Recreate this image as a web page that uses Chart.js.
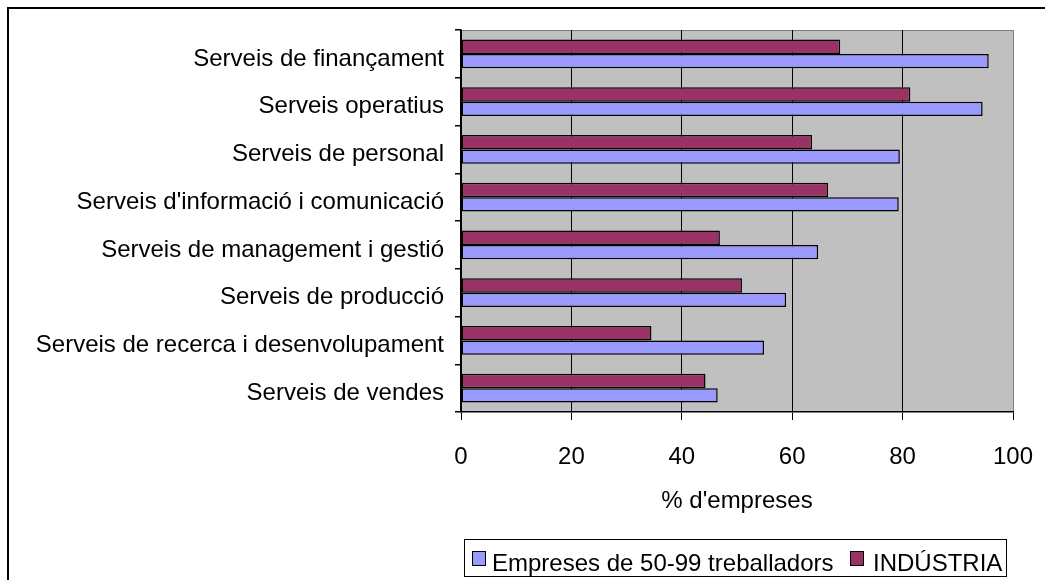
<!DOCTYPE html>
<html lang="ca">

<head>
    <meta charset="UTF-8">
    <title>Serveis</title>
    <script src="https://cdn.jsdelivr.net/npm/chart.js"></script>
    <style>
        body { margin: 0; width: 1045px; height: 580px; overflow: hidden; background: #fff; position: relative; font-family: "Liberation Sans", Arial, sans-serif; }
        #marc { position: absolute; left: 7px; top: 7px; width: 2000px; height: 2000px; border: 2px solid #000; }
        #myChart { position: absolute; left: 0; top: 0; }
        #llegenda { position: absolute; left: 464px; top: 539px; width: 541px; height: 36px; border: 1.5px solid #000; font-size: 24px; color: #000; }
        .quadre { position: absolute; top: 11px; width: 12px; height: 13px; border: 1.5px solid #000; }
        .txt { position: absolute; top: 9px; white-space: nowrap; line-height: 28px; }
    </style>
</head>

<body>
    <div id="marc"></div>
    <canvas id="myChart" width="1045" height="580"></canvas>
    <div id="llegenda">
        <div class="quadre" style="left:7px;background:#9999FF"></div>
        <div class="txt" style="left:27px">Empreses de 50-99 treballadors</div>
        <div class="quadre" style="left:385px;background:#993366"></div>
        <div class="txt" style="left:408px">INDÚSTRIA</div>
    </div>
    <script>
        // dades llegides del gràfic (% d'empreses)
        const categories = ['Serveis de finançament', 'Serveis operatius', 'Serveis de personal',
            "Serveis d'informació i comunicació", 'Serveis de management i gestió',
            'Serveis de producció', 'Serveis de recerca i desenvolupament', 'Serveis de vendes'];
        const industria = [68.7, 81.4, 63.6, 66.5, 46.9, 50.9, 34.5, 44.3];
        const empreses = [95.6, 94.5, 79.5, 79.3, 64.7, 58.9, 54.9, 46.5];
        const xTicks = [0, 20, 40, 60, 80, 100];

        const font = { family: '"Liberation Sans", Arial, sans-serif', size: 24 };

        // fons gris de l'àrea del gràfic + vora superior grisa
        const fonsGris = {
            id: 'fonsGris',
            beforeDraw(chart) {
                const a = chart.chartArea;
                const c = chart.ctx;
                c.save();
                c.fillStyle = '#C0C0C0';
                c.fillRect(a.left, a.top, a.right - a.left, a.bottom - a.top);
                c.strokeStyle = '#808080';
                c.lineWidth = 1;
                c.beginPath();
                c.moveTo(a.left, a.top + 0.5);
                c.lineTo(a.right, a.top + 0.5);
                c.stroke();
                c.restore();
            }
        };

        const ctx = document.querySelector('#myChart');
        const myChart = new Chart(ctx, {
            type: 'bar',
            data: {
                labels: categories,
                datasets: [
                    { label: 'INDÚSTRIA', data: industria, backgroundColor: '#993366' },
                    { label: 'Empreses de 50-99 treballadors', data: empreses, backgroundColor: '#9999FF' }
                ]
            },
            options: {
                indexAxis: 'y',
                responsive: false,
                animation: false,
                layout: { padding: { left: 0, right: 32, top: 30, bottom: 0 } },
                datasets: {
                    bar: {
                        borderColor: '#000',
                        borderWidth: 1.5,
                        borderSkipped: false,
                        categoryPercentage: 0.6,
                        barPercentage: 1.0
                    }
                },
                plugins: {
                    legend: { display: false },
                    tooltip: { enabled: false }
                },
                scales: {
                    x: {
                        min: 0,
                        max: 100,
                        afterBuildTicks: (s) => { s.ticks = xTicks.map(v => ({ value: v })); },
                        afterFit: (s) => { s.height = 168; s.paddingLeft = 0; s.paddingRight = 0; },
                        grid: {
                            color: (c) => (c.tick && c.tick.value === 100) ? '#808080' : '#000',
                            tickColor: '#000',
                            tickLength: 8,
                            lineWidth: 1
                        },
                        border: { color: '#000', width: 1.5 },
                        ticks: { color: '#000', font: font, padding: 23, maxRotation: 0 },
                        title: {
                            display: true,
                            text: "% d'empreses",
                            color: '#000',
                            font: font,
                            padding: { top: 0, bottom: 64 }
                        }
                    },
                    y: {
                        afterFit: (s) => { s.width = 461; s.paddingTop = 0; s.paddingBottom = 0; },
                        grid: {
                            offset: true,
                            drawOnChartArea: false,
                            drawTicks: true,
                            tickLength: 6,
                            tickColor: '#000',
                            lineWidth: 1.5
                        },
                        border: { color: '#000', width: 1.5 },
                        ticks: { color: '#000', font: font, padding: 11, labelOffset: 5, autoSkip: false }
                    }
                }
            },
            plugins: [fonsGris]
        });
    </script>
</body>

</html>
